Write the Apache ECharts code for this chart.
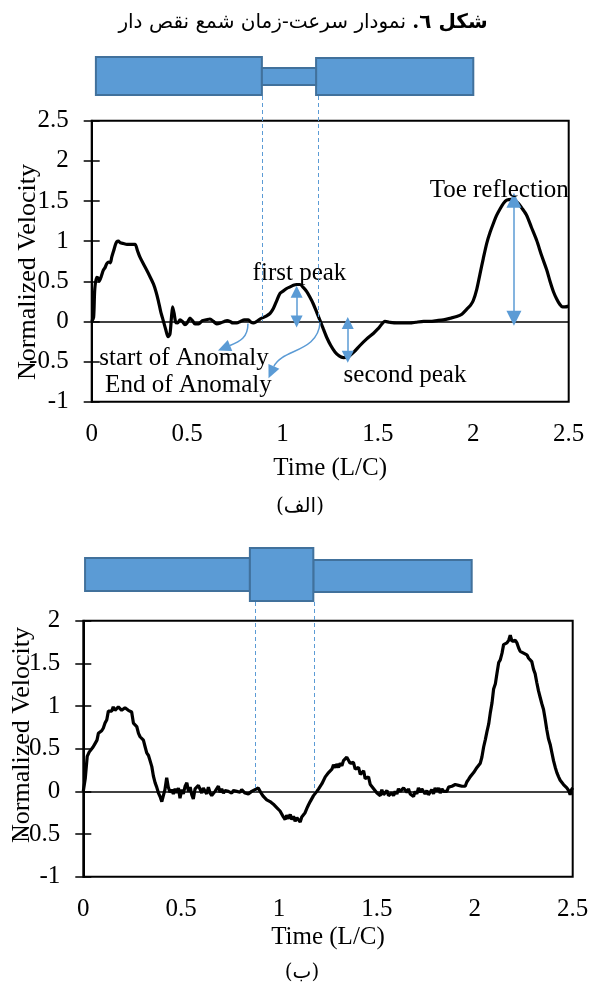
<!DOCTYPE html>
<html><head><meta charset="utf-8">
<script src="https://cdn.jsdelivr.net/npm/echarts@6/dist/echarts.min.js"></script>
<style>html,body{margin:0;padding:0;background:#fff}#c{width:594px;height:987px}</style>
</head><body><div id="c"></div>
<script>
// ---------- data ----------
const xTickLabels = ['0', '0.5', '1', '1.5', '2', '2.5'];
const timeA = [0.000,0.010,0.016,0.026,0.035,0.040,0.050,0.061,0.070,0.079,0.090,0.098,0.105,0.115,0.125,0.131,0.140,0.150,0.166,0.185,0.205,0.227,0.240,0.253,0.270,0.288,0.305,0.323,0.337,0.349,0.362,0.375,0.388,0.400,0.410,0.418,0.424,0.432,0.440,0.450,0.463,0.475,0.489,0.500,0.515,0.528,0.541,0.560,0.580,0.600,0.620,0.638,0.655,0.675,0.695,0.710,0.725,0.740,0.760,0.780,0.800,0.821,0.835,0.847,0.865,0.882,0.900,0.917,0.935,0.952,0.970,0.987,1.005,1.022,1.040,1.057,1.074,1.092,1.110,1.127,1.144,1.161,1.180,1.197,1.215,1.232,1.253,1.275,1.297,1.319,1.345,1.375,1.406,1.440,1.476,1.505,1.537,1.560,1.598,1.630,1.668,1.700,1.740,1.773,1.810,1.843,1.880,1.913,1.940,1.965,1.985,2.000,2.018,2.035,2.052,2.070,2.088,2.105,2.122,2.140,2.158,2.175,2.201,2.218,2.236,2.258,2.280,2.305,2.332,2.358,2.385,2.402,2.420,2.437,2.454,2.468,2.480,2.500];
const velA = [0.00,0.05,0.40,0.55,0.54,0.50,0.56,0.64,0.67,0.72,0.74,0.73,0.80,0.88,0.96,0.99,1.00,0.98,0.97,0.96,0.96,0.96,0.88,0.80,0.72,0.64,0.56,0.47,0.37,0.26,0.12,0.01,-0.10,-0.19,-0.16,0.05,0.18,0.10,-0.01,-0.02,0.02,0.00,-0.04,-0.02,0.04,0.01,-0.03,-0.03,0.01,0.02,0.03,0.00,-0.03,-0.02,0.00,0.01,0.00,-0.02,-0.02,0.00,0.02,0.02,-0.01,-0.02,0.00,0.03,0.05,0.07,0.10,0.16,0.26,0.35,0.38,0.41,0.43,0.45,0.46,0.46,0.42,0.37,0.30,0.22,0.11,0.01,-0.10,-0.20,-0.30,-0.38,-0.43,-0.45,-0.44,-0.38,-0.30,-0.22,-0.15,-0.08,0.00,-0.01,-0.02,-0.02,-0.02,-0.01,0.00,0.00,0.01,0.02,0.04,0.06,0.09,0.15,0.20,0.26,0.40,0.59,0.78,0.97,1.11,1.22,1.32,1.40,1.47,1.51,1.52,1.50,1.47,1.40,1.32,1.17,1.01,0.82,0.64,0.50,0.37,0.28,0.21,0.18,0.18,0.19];

const timeB = [0.000,0.010,0.020,0.030,0.040,0.050,0.060,0.070,0.077,0.085,0.094,0.102,0.111,0.120,0.128,0.137,0.145,0.153,0.162,0.170,0.179,0.187,0.196,0.205,0.213,0.222,0.230,0.239,0.247,0.256,0.265,0.273,0.282,0.290,0.299,0.307,0.316,0.324,0.333,0.341,0.350,0.358,0.367,0.375,0.384,0.392,0.401,0.409,0.417,0.426,0.434,0.443,0.452,0.460,0.469,0.477,0.486,0.494,0.503,0.511,0.520,0.529,0.537,0.546,0.554,0.562,0.571,0.580,0.588,0.596,0.605,0.613,0.622,0.630,0.639,0.648,0.656,0.665,0.673,0.682,0.690,0.699,0.707,0.716,0.724,0.733,0.741,0.750,0.758,0.767,0.775,0.784,0.792,0.801,0.809,0.818,0.826,0.835,0.843,0.852,0.860,0.869,0.877,0.886,0.894,0.903,0.911,0.920,0.928,0.937,0.945,0.954,0.962,0.971,0.980,0.988,0.997,1.005,1.014,1.022,1.031,1.039,1.048,1.057,1.065,1.074,1.082,1.091,1.099,1.108,1.116,1.125,1.133,1.142,1.150,1.159,1.168,1.176,1.185,1.193,1.202,1.210,1.219,1.227,1.236,1.244,1.253,1.261,1.270,1.278,1.287,1.295,1.304,1.312,1.321,1.329,1.338,1.346,1.355,1.363,1.372,1.380,1.389,1.398,1.406,1.415,1.423,1.432,1.440,1.449,1.457,1.466,1.474,1.483,1.491,1.500,1.508,1.517,1.525,1.534,1.542,1.551,1.559,1.568,1.576,1.585,1.593,1.602,1.610,1.619,1.627,1.636,1.644,1.653,1.661,1.670,1.678,1.687,1.695,1.704,1.712,1.721,1.729,1.738,1.746,1.755,1.763,1.772,1.780,1.789,1.797,1.806,1.815,1.823,1.832,1.840,1.849,1.857,1.866,1.874,1.883,1.891,1.900,1.908,1.917,1.925,1.934,1.942,1.951,1.959,1.968,1.976,1.985,1.994,2.002,2.011,2.019,2.028,2.036,2.045,2.054,2.062,2.071,2.079,2.088,2.096,2.105,2.113,2.122,2.130,2.139,2.147,2.156,2.164,2.173,2.181,2.190,2.198,2.207,2.215,2.224,2.232,2.241,2.249,2.258,2.266,2.275,2.283,2.291,2.300,2.308,2.317,2.325,2.334,2.342,2.351,2.359,2.368,2.376,2.385,2.394,2.402,2.411,2.419,2.428,2.436,2.445,2.453,2.462,2.470,2.479,2.487,2.494,2.500];
const velB = [0.00,0.15,0.41,0.46,0.47,0.52,0.56,0.60,0.68,0.66,0.71,0.74,0.80,0.84,0.94,0.96,0.94,0.99,0.95,0.94,0.99,1.00,0.95,0.93,0.98,0.99,0.95,0.96,0.93,0.80,0.79,0.76,0.68,0.64,0.63,0.60,0.52,0.45,0.42,0.36,0.29,0.18,0.10,0.05,-0.02,-0.06,-0.12,-0.14,0.02,0.16,0.05,-0.01,0.02,-0.03,0.03,-0.02,0.04,-0.08,0.02,-0.03,0.06,0.10,0.00,0.05,-0.04,-0.09,0.03,0.01,0.07,0.06,-0.02,0.04,0.02,-0.03,0.05,-0.02,-0.05,-0.06,0.00,0.02,0.06,-0.01,0.03,-0.02,0.01,-0.01,0.00,0.02,-0.02,0.01,0.03,0.00,0.02,-0.01,0.02,0.00,-0.02,-0.01,-0.03,-0.01,0.00,-0.02,0.02,0.00,0.04,0.02,-0.03,-0.06,-0.05,-0.10,-0.08,-0.12,-0.11,-0.15,-0.13,-0.19,-0.20,-0.23,-0.25,-0.30,-0.33,-0.28,-0.32,-0.27,-0.33,-0.29,-0.35,-0.31,-0.33,-0.36,-0.30,-0.29,-0.25,-0.20,-0.16,-0.12,-0.10,-0.05,-0.04,0.00,0.03,0.02,0.09,0.10,0.17,0.15,0.22,0.20,0.26,0.31,0.28,0.32,0.28,0.33,0.30,0.36,0.35,0.40,0.41,0.33,0.31,0.34,0.26,0.25,0.28,0.20,0.21,0.24,0.15,0.14,0.17,0.08,0.09,0.03,0.05,-0.02,0.00,-0.05,0.02,-0.04,-0.02,0.01,-0.05,-0.06,-0.02,-0.05,0.00,-0.03,0.03,0.00,0.02,0.04,0.02,-0.01,0.03,-0.03,-0.02,-0.06,0.00,-0.03,0.04,-0.01,0.03,0.04,-0.03,0.01,-0.04,-0.04,0.02,-0.03,0.04,0.00,0.04,-0.02,0.03,0.00,0.02,0.00,0.05,0.03,0.06,0.05,0.08,0.06,0.07,0.08,0.06,0.07,0.06,0.11,0.14,0.17,0.19,0.22,0.24,0.28,0.30,0.33,0.40,0.52,0.61,0.70,0.79,0.92,1.04,1.20,1.26,1.38,1.51,1.54,1.62,1.72,1.70,1.74,1.77,1.83,1.76,1.74,1.77,1.74,1.68,1.64,1.66,1.62,1.63,1.60,1.56,1.55,1.52,1.43,1.38,1.27,1.18,1.10,1.03,0.96,0.85,0.72,0.62,0.55,0.45,0.36,0.28,0.22,0.17,0.13,0.12,0.08,0.06,0.04,0.01,-0.04,0.02,0.04];

// pile schematic edges (time units): [start, anomaly start, anomaly end, end]
const pileEdgesA = [0.022, 0.892, 1.176, 2.0];
const pileEdgesB = [0.009, 0.851, 1.175, 1.984];
const anomalyLinesA = [0.89, 1.186];
const anomalyLinesB = [0.877, 1.178];

// annotations (chart a), data coordinates
const labelsA = [
  {name: 'first peak', t: 1.089, v: 0.60},
  {name: 'start of Anomaly', t: 0.484, v: -0.46},
  {name: 'End of Anomaly', t: 0.507, v: -0.80},
  {name: 'second peak', t: 1.642, v: -0.67},
  {name: 'Toe reflection', t: 2.136, v: 1.63}
];
const doubleArrowsA = [
  {t: 1.074, from: 0.37, to: 0.0, size: 12},
  {t: 1.342, from: -0.02, to: -0.44, size: 12},
  {t: 2.213, from: 1.51, to: 0.04, size: 15}
];
// curved pointer arrows: start, control 1, control 2, end (data coordinates)
const curvedArrowsA = [
  [[0.819, -0.025], [0.819, -0.20], [0.777, -0.25], [0.725, -0.30]],
  [[1.197, -0.01], [1.186, -0.39], [0.997, -0.34], [0.955, -0.56]]
];

// ---------- chart ----------
const SERIF = "'Liberation Serif','Times New Roman',serif";
const BLUE = '#5B9BD5';
const chart = echarts.init(document.getElementById('c'), null, {renderer: 'canvas'});

function zip(a, b) { return a.map((x, i) => [x, b[i]]); }

const gridA = {left: 91.7, top: 120.7, width: 477, height: 281};
const gridB = {left: 83.3, top: 620.7, width: 489.4, height: 256};

function xAx(gi) {
  return {
    gridIndex: gi, type: 'value', min: 0, max: 2.5, interval: 0.5,
    axisLine: {show: false}, axisTick: {show: false}, splitLine: {show: false},
    axisLabel: {fontFamily: SERIF, fontSize: 25, color: '#000', margin: 20,
      formatter: v => xTickLabels[Math.round(v / 0.5)]}
  };
}
function yAx(gi, min, max, inside) {
  return {
    gridIndex: gi, type: 'value', min: min, max: max, interval: 0.5, position: 'left',
    axisLine: {show: !inside, onZero: false, lineStyle: {color: '#000', width: 2}},
    axisTick: {show: true, inside: inside, length: 8, lineStyle: {color: '#000', width: 1.5}},
    axisLabel: {show: !inside, fontFamily: SERIF, fontSize: 25, color: '#000', margin: 23},
    splitLine: {show: false}
  };
}

const zeroLine = {yAxis: 0, symbol: 'none', lineStyle: {color: '#000', width: 1.5, type: 'solid'}, label: {show: false}};

const markLinesA = [zeroLine];
doubleArrowsA.forEach(a => {
  markLinesA.push([
    {coord: [a.t, a.from], symbol: 'triangle', symbolSize: [a.size, a.size],
     lineStyle: {color: BLUE, width: 1.5, type: 'solid'}, label: {show: false}},
    {coord: [a.t, a.to], symbol: 'triangle', symbolSize: [a.size, a.size]}
  ]);
});

const option = {
  animation: false,
  backgroundColor: '#fff',
  grid: [
    Object.assign({show: true, borderColor: '#000', borderWidth: 2, backgroundColor: 'transparent'}, gridA),
    Object.assign({show: true, borderColor: '#000', borderWidth: 2, backgroundColor: 'transparent'}, gridB)
  ],
  xAxis: [xAx(0), xAx(1)],
  yAxis: [yAx(0, -1, 2.5, false), yAx(0, -1, 2.5, true), yAx(1, -1, 2, false), yAx(1, -1, 2, true)],
  series: [
    {
      type: 'line', xAxisIndex: 0, yAxisIndex: 0, data: zip(timeA, velA),
      showSymbol: false, smooth: 0.25, lineStyle: {color: '#000', width: 3.2}, z: 3,
      markLine: {silent: true, symbol: 'none', data: markLinesA, label: {show: false}},
      markPoint: {
        silent: true, symbol: 'circle', symbolSize: 0,
        data: labelsA.map(l => ({name: l.name, coord: [l.t, l.v]})),
        label: {show: true, position: 'inside', formatter: '{b}', color: '#000', fontFamily: SERIF, fontSize: 25}
      }
    },
    {
      type: 'line', xAxisIndex: 1, yAxisIndex: 2, data: zip(timeB, velB),
      showSymbol: false, lineStyle: {color: '#000', width: 3.2}, z: 3,
      markLine: {silent: true, symbol: 'none', data: [zeroLine], label: {show: false}}
    }
  ]
};
chart.setOption(option);

// ---------- schematic, pointers, captions ----------
function px(xi, t) { return chart.convertToPixel({xAxisIndex: xi}, t); }
function py(yi, v) { return chart.convertToPixel({yAxisIndex: yi}, v); }
function pt(d) { return chart.convertToPixel({xAxisIndex: 0, yAxisIndex: 0}, d); }

const g = [];
function rect(x1, x2, y1, y2) {
  g.push({type: 'rect', shape: {x: x1, y: y1, width: x2 - x1, height: y2 - y1},
    style: {fill: BLUE, stroke: '#41719C', lineWidth: 2}, z: 10});
}
function dashed(x, y1, y2) {
  const cx = Math.round(x) + 0.5;
  g.push({type: 'line', shape: {x1: cx, y1: y1, x2: cx, y2: y2},
    style: {stroke: BLUE, lineWidth: 1, lineDash: [4, 3]}, z: 9});
}
function text(x, y, str, size, rot) {
  g.push({type: 'text', x: x, y: y, rotation: rot || 0,
    style: {text: str, fontFamily: SERIF, fontSize: size, fill: '#000', align: 'center', verticalAlign: 'middle'}, z: 12});
}

// pile a: wide | narrow | wide
const ea = pileEdgesA.map(t => px(0, t));
rect(ea[0], ea[1], 57, 95);
rect(ea[2], ea[3], 58, 95);
rect(ea[1], ea[2], 68, 85);
anomalyLinesA.forEach(t => dashed(px(0, t), 96, py(0, 0)));

// pile b: wide | bulge | wide
const eb = pileEdgesB.map(t => px(1, t));
rect(eb[0], eb[1], 558, 591);
rect(eb[2], eb[3], 560, 592);
rect(eb[1], eb[2], 548, 601);
anomalyLinesB.forEach(t => dashed(px(1, t), 602, py(2, 0)));

// curved pointer arrows
curvedArrowsA.forEach(c => {
  const p = c.map(pt);
  g.push({type: 'bezierCurve', shape: {x1: p[0][0], y1: p[0][1], cpx1: p[1][0], cpy1: p[1][1],
    cpx2: p[2][0], cpy2: p[2][1], x2: p[3][0], y2: p[3][1]},
    style: {stroke: BLUE, lineWidth: 1.5, fill: null}, z: 11});
  let dx = p[3][0] - p[2][0], dy = p[3][1] - p[2][1];
  const L = Math.hypot(dx, dy); dx /= L; dy /= L;
  const len = 13, hw = 6;
  const tip = [p[3][0] + dx * len, p[3][1] + dy * len];
  g.push({type: 'polygon', shape: {points: [tip,
    [p[3][0] - dy * hw, p[3][1] + dx * hw], [p[3][0] + dy * hw, p[3][1] - dx * hw]]},
    style: {fill: BLUE}, z: 11});
});

// axis titles
text(28, 272, 'Normalized Velocity', 26, Math.PI / 2);
text(22, 735, 'Normalized Velocity', 26, Math.PI / 2);
text(gridA.left + gridA.width / 2, 468, 'Time (L/C)', 25);
text(gridB.left + gridB.width / 2, 937, 'Time (L/C)', 25);

// captions
const ARAB = "'DejaVu Serif','DejaVu Sans','Noto Sans',sans-serif";
g.push({type: 'text', x: 300, y: 507, style: {text: '(الف)', fontFamily: ARAB, fontSize: 20, fill: '#000', align: 'center', verticalAlign: 'middle'}, z: 12});
g.push({type: 'text', x: 302, y: 973, style: {text: '(ب)', fontFamily: ARAB, fontSize: 20, fill: '#000', align: 'center', verticalAlign: 'middle'}, z: 12});
g.push({type: 'text', x: 303, y: 23, style: {
  text: '{n|نمودار سرعت-زمان شمع نقص دار }{b|\u200Fشکل ٦.\u200F}',
  align: 'center', verticalAlign: 'middle',
  rich: {
    n: {fontFamily: ARAB, fontSize: 20, fill: '#000'},
    b: {fontFamily: ARAB, fontSize: 20, fontWeight: 'bold', fill: '#000'}
  }
}, z: 12});

chart.setOption({graphic: {elements: g}});
</script></body></html>
